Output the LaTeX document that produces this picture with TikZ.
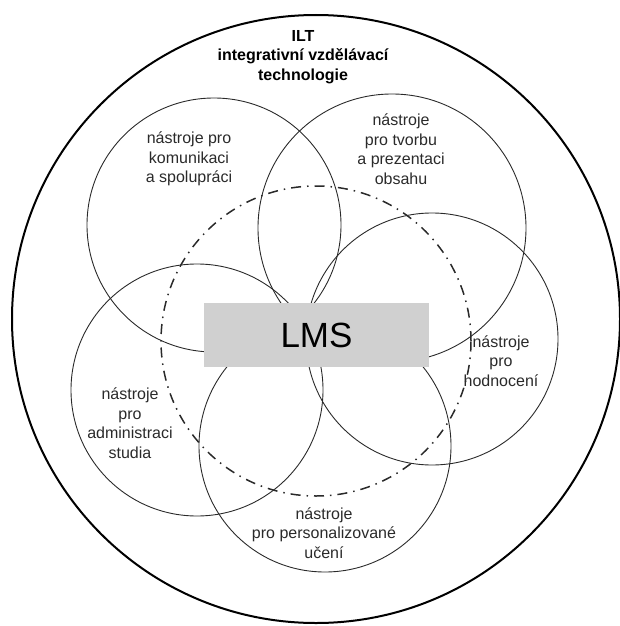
\documentclass[tikz,border=0pt]{standalone}
\usepackage{fontspec}
\setmainfont{Liberation Sans}
\usepackage{tikz}
\usetikzlibrary{positioning}
\definecolor{lms-gray}{HTML}{D0D0D0}
\definecolor{ink}{HTML}{2A2A2A}

\tikzset{
    tool/.style={draw=ink, circle, line width=0.9pt, inner sep=0pt},
    label/.style={align=center, text=ink, font=\fontsize{16}{19.5}\selectfont},
}

\begin{document}
\begin{tikzpicture}[x=1pt, y=-1pt]
    \useasboundingbox (0,0) rectangle (619,626);
    % outer circle (ILT)
    \node[draw=black, circle, line width=2pt, minimum size=608pt, inner sep=0pt] (ilt) at (316,319) {};
    \node[label, font=\bfseries\fontsize{16}{19.5}\selectfont, text=black] (iltText) at (303,57) {ILT\\integrativní vzdělávací\\technologie};
    % LMS core, dash-dot circle
    \node[draw=ink, circle, line width=1.5pt, dash pattern=on 10pt off 6pt on 1.5pt off 6pt, minimum size=310pt, inner sep=0pt] (core) at (316,341) {};
    % five tool circles
    \foreach \name/\cx/\cy/\d in {komunikace/214/225/254, tvorba/392/228/268, hodnoceni/432/339/252, administrace/197/390/252, uceni/325/446/252} {
        \node[tool, minimum size=\d pt] (\name) at (\cx,\cy) {};
    }
    \node[fill=lms-gray, minimum width=225pt, minimum height=64pt, inner sep=0pt, font=\fontsize{35}{40}\selectfont] (lms) at (316.5,335) {LMS};
    % labels
    \node[label] (komunikaceText) at (189,159) {nástroje pro\\komunikaci\\a spolupráci};
    \node[label] (tvorbaText) at (401,149) {nástroje\\pro tvorbu\\a prezentaci\\obsahu};
    \node[label] (hodnoceniText) at (501,361) {nástroje\\pro\\hodnocení};
    \node[label] (administraceText) at (130,423) {nástroje\\pro\\administraci\\studia};
    \node[label] (uceniText) at (324,533) {nástroje\\pro personalizované\\učení};
\end{tikzpicture}
\end{document}
